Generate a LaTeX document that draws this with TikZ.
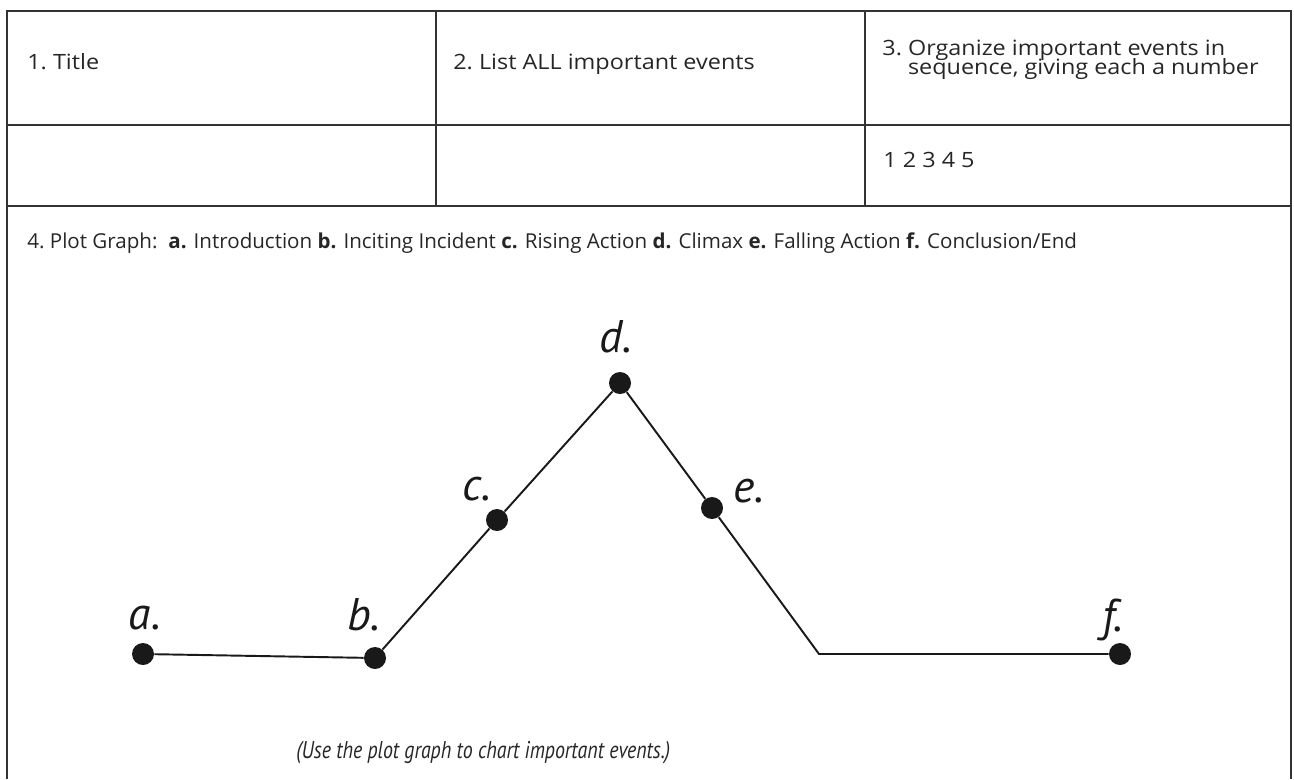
\documentclass[tikz,border=0pt]{standalone}
\usepackage{fontspec}
\setmainfont{PT Sans}
\newfontfamily\cellfont[FakeStretch=1.11]{Open Sans}
\newfontfamily\headfont{Open Sans}
\newfontfamily\notefont[FakeStretch=0.82]{PT Sans}
\usetikzlibrary{positioning}

\begin{document}
\begin{tikzpicture}[x=0.02cm, y=-0.02cm,
        % --- Styles ---
        rule/.style={draw=black!80, line width=1.1pt},
        celltext/.style={anchor=base west, inner sep=0pt, text=black!85, font=\cellfont\fontsize{12}{14}\selectfont},
        headtext/.style={celltext, font=\headfont\fontsize{11.7}{14}\selectfont},
        plotdot/.style={circle, fill=black!90, inner sep=0pt, minimum size=0.44cm},
        plotline/.style={draw=black!90, line width=1.1pt},
        dotlabel/.style={inner sep=0pt, text=black!90, font=\fontsize{26}{26}\selectfont\itshape},
        notetext/.style={anchor=base west, inner sep=0pt, text=black!85, font=\notefont\fontsize{13.8}{16}\selectfont\itshape}
    ]
        \useasboundingbox (0,0) rectangle (1294,779);

        % --- Table Frame ---
        \draw[rule] (7,779) |- (1291,11) -- (1291,779);
        \draw[rule] (7,125) -- (1291,125);
        \draw[rule] (7,206) -- (1291,206);
        \draw[rule] (436,11) -- (436,206);
        \draw[rule] (865,11) -- (865,206);

        % --- Cell Texts ---
        \node[celltext] (title) at (27,69) {1.\ Title};
        \node[celltext] (events) at (453,69) {2.\ List ALL important events};
        \node[celltext] (order) at (882,55) {3.\ Organize important events in};
        \node[celltext] (order2) at (882,74) {\phantom{3.\ }sequence, giving each a number};
        \node[celltext] (numbers) at (883,167) {1 2 3 4 5};
        \node[headtext] (plothead) at (27,248) {4.\ Plot Graph:};
        \node[headtext] (stages) at (168,248) {\textbf{a.} Introduction \textbf{b.} Inciting Incident \textbf{c.} Rising Action \textbf{d.} Climax \textbf{e.} Falling Action \textbf{f.} Conclusion/End};

        % --- Plot Points ---
        \node[plotdot] (a) at (143,654) {};
        \node[plotdot] (b) at (375,658) {};
        \node[plotdot] (c) at (497,520) {};
        \node[plotdot] (d) at (620,383) {};
        \node[plotdot] (e) at (712,508) {};
        \coordinate (turn) at (819,654);
        \node[plotdot] (f) at (1120,654) {};

        % --- Plot Line ---
        \draw[plotline] (a) -- (b) -- (c) -- (d) -- (e) -- (turn) -- (f);

        % --- Point Labels ---
        \node[dotlabel, above=7.4pt of a, anchor=base, xshift=1pt] (alabel) {a.};
        \node[dotlabel, above=9pt of b, anchor=base, xshift=-6.3pt] (blabel) {b.};
        \node[dotlabel, above=4.5pt of c, anchor=base, xshift=-11.4pt] (clabel) {c.};
        \node[dotlabel, above=10.8pt of d, anchor=base, xshift=-2.3pt] (dlabel) {d.};
        \node[dotlabel, right=5.5pt of e, anchor=base west, yshift=3pt] (elabel) {e.};
        \node[dotlabel, above=6.3pt of f, anchor=base, xshift=-4pt] (flabel) {f.};

        % --- Footnote ---
        \node[notetext] (note) at (296,758) {(Use the plot graph to chart important events.)};

    \end{tikzpicture}
\end{document}
